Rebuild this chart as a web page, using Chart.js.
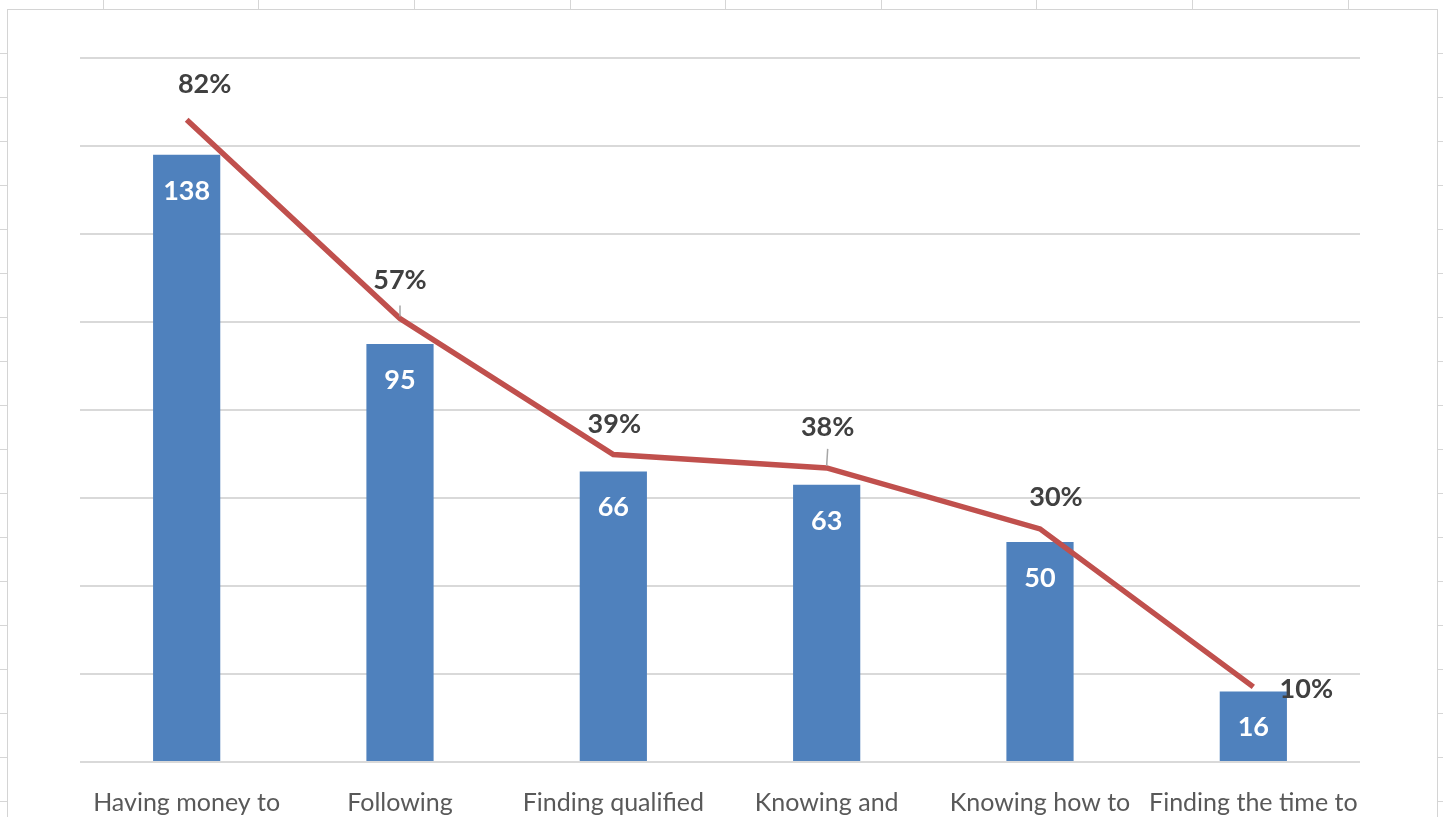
<!DOCTYPE html>
<html>
<head>
<meta charset="utf-8">
<script src="https://cdn.jsdelivr.net/npm/chart.js@4.4.1/dist/chart.umd.min.js"></script>
<style>
    html, body { margin: 0; padding: 0; background: #fff; overflow: hidden; }
    body { width: 1443px; height: 817px; position: relative; }
    .sheet-line { position: absolute; background: #d6d6d6; }
    #frame {
        position: absolute; left: 7px; top: 9px; width: 1429px; height: 820px;
        border: 1px solid #d4d4d4; background: #fff;
    }
    #chartBox { position: relative; width: 1429px; height: 807px; }
</style>
</head>
<body>
<div id="frame"><div id="chartBox"><canvas id="chart"></canvas></div></div>
<script>
// =======================================
// Survey: obstacles (counts + share)
// =======================================

const categories = ['Having money to', 'Following', 'Finding qualified', 'Knowing and', 'Knowing how to', 'Finding the time to'];
const responseCounts = [138, 95, 66, 63, 50, 16];
const responseShare = [0.821, 0.567, 0.393, 0.376, 0.298, 0.096];
const countAxisMax = 160;
const countAxisStep = 20;
const shareAxisMax = 0.9;

// spreadsheet cells behind the chart
const colEdges = [103, 258, 414, 570, 725, 881, 1036, 1192, 1348];
colEdges.forEach(x => {
    const d = document.createElement('div');
    d.className = 'sheet-line';
    Object.assign(d.style, { left: x + 'px', top: '0px', width: '1px', height: '9px' });
    document.body.appendChild(d);
});
for (let y = 53; y < 817; y += 44) {
    [[0, 7], [1438, 5]].forEach(([x, w]) => {
        const d = document.createElement('div');
        d.className = 'sheet-line';
        Object.assign(d.style, { left: x + 'px', top: y + 'px', width: w + 'px', height: '1px' });
        document.body.appendChild(d);
    });
}

// Where each share label sits relative to its point (Excel had them hand-placed)
const shareLabelOffsets = [[18, -35], [0, -38], [1, -30], [1, -41], [16, -32], [53, 2]];
const leaderLines = { 1: [-13, -2], 3: [-19, -2] };

const labelPlugin = {
    id: 'valueLabels',
    afterDatasetsDraw(chart) {
        const ctx = chart.ctx;
        ctx.save();
        ctx.textAlign = 'center';
        ctx.textBaseline = 'middle';

        // counts inside bars
        ctx.font = 'bold 27px Lato';
        ctx.fillStyle = '#ffffff';
        chart.getDatasetMeta(0).data.forEach((bar, i) => {
            ctx.fillText(responseCounts[i], bar.x, bar.y + 36);
        });

        // share labels above the line
        ctx.font = 'bold 27px Lato';
        ctx.fillStyle = '#404040';
        chart.getDatasetMeta(1).data.forEach((pt, i) => {
            const [dx, dy] = shareLabelOffsets[i];
            ctx.fillText(Math.round(responseShare[i] * 100) + '%', pt.x + dx, pt.y + dy);
            if (leaderLines[i]) {
                ctx.strokeStyle = '#a6a6a6';
                ctx.lineWidth = 1.5;
                ctx.beginPath();
                ctx.moveTo(pt.x + dx, pt.y + leaderLines[i][0]);
                ctx.lineTo(pt.x, pt.y + leaderLines[i][1]);
                ctx.stroke();
            }
        });
        ctx.restore();
    }
};

new Chart(document.getElementById('chart'), {
    type: 'bar',
    data: {
        labels: categories,
        datasets: [{
            type: 'bar',
            data: responseCounts,
            backgroundColor: '#4F81BD',
            barPercentage: 0.315,
            categoryPercentage: 1,
            yAxisID: 'y',
            order: 1
        }, {
            type: 'line',
            data: responseShare,
            borderColor: '#C0504D',
            borderWidth: 5.5,
            pointRadius: 0,
            tension: 0,
            yAxisID: 'y1',
            order: 0
        }]
    },
    options: {
        responsive: true,
        maintainAspectRatio: false,
        animation: false,
        layout: { padding: { left: 72, right: 77, top: 48, bottom: 0 } },
        plugins: {
            legend: { display: false },
            tooltip: { enabled: false }
        },
        scales: {
            x: {
                grid: { display: false },
                border: { display: false },
                ticks: {
                    color: '#595959',
                    font: { family: 'Lato', size: 25 },
                    padding: 18,
                    maxRotation: 0,
                    autoSkip: false
                },
                afterFit: scale => { scale.height = 55; }
            },
            y: {
                min: 0,
                max: countAxisMax,
                ticks: { display: false, stepSize: countAxisStep },
                grid: { color: '#d9d9d9', lineWidth: 2, drawTicks: false },
                border: { display: false }
            },
            y1: {
                display: false,
                position: 'right',
                min: 0,
                max: shareAxisMax
            }
        }
    },
    plugins: [labelPlugin]
});
</script>
</body>
</html>
